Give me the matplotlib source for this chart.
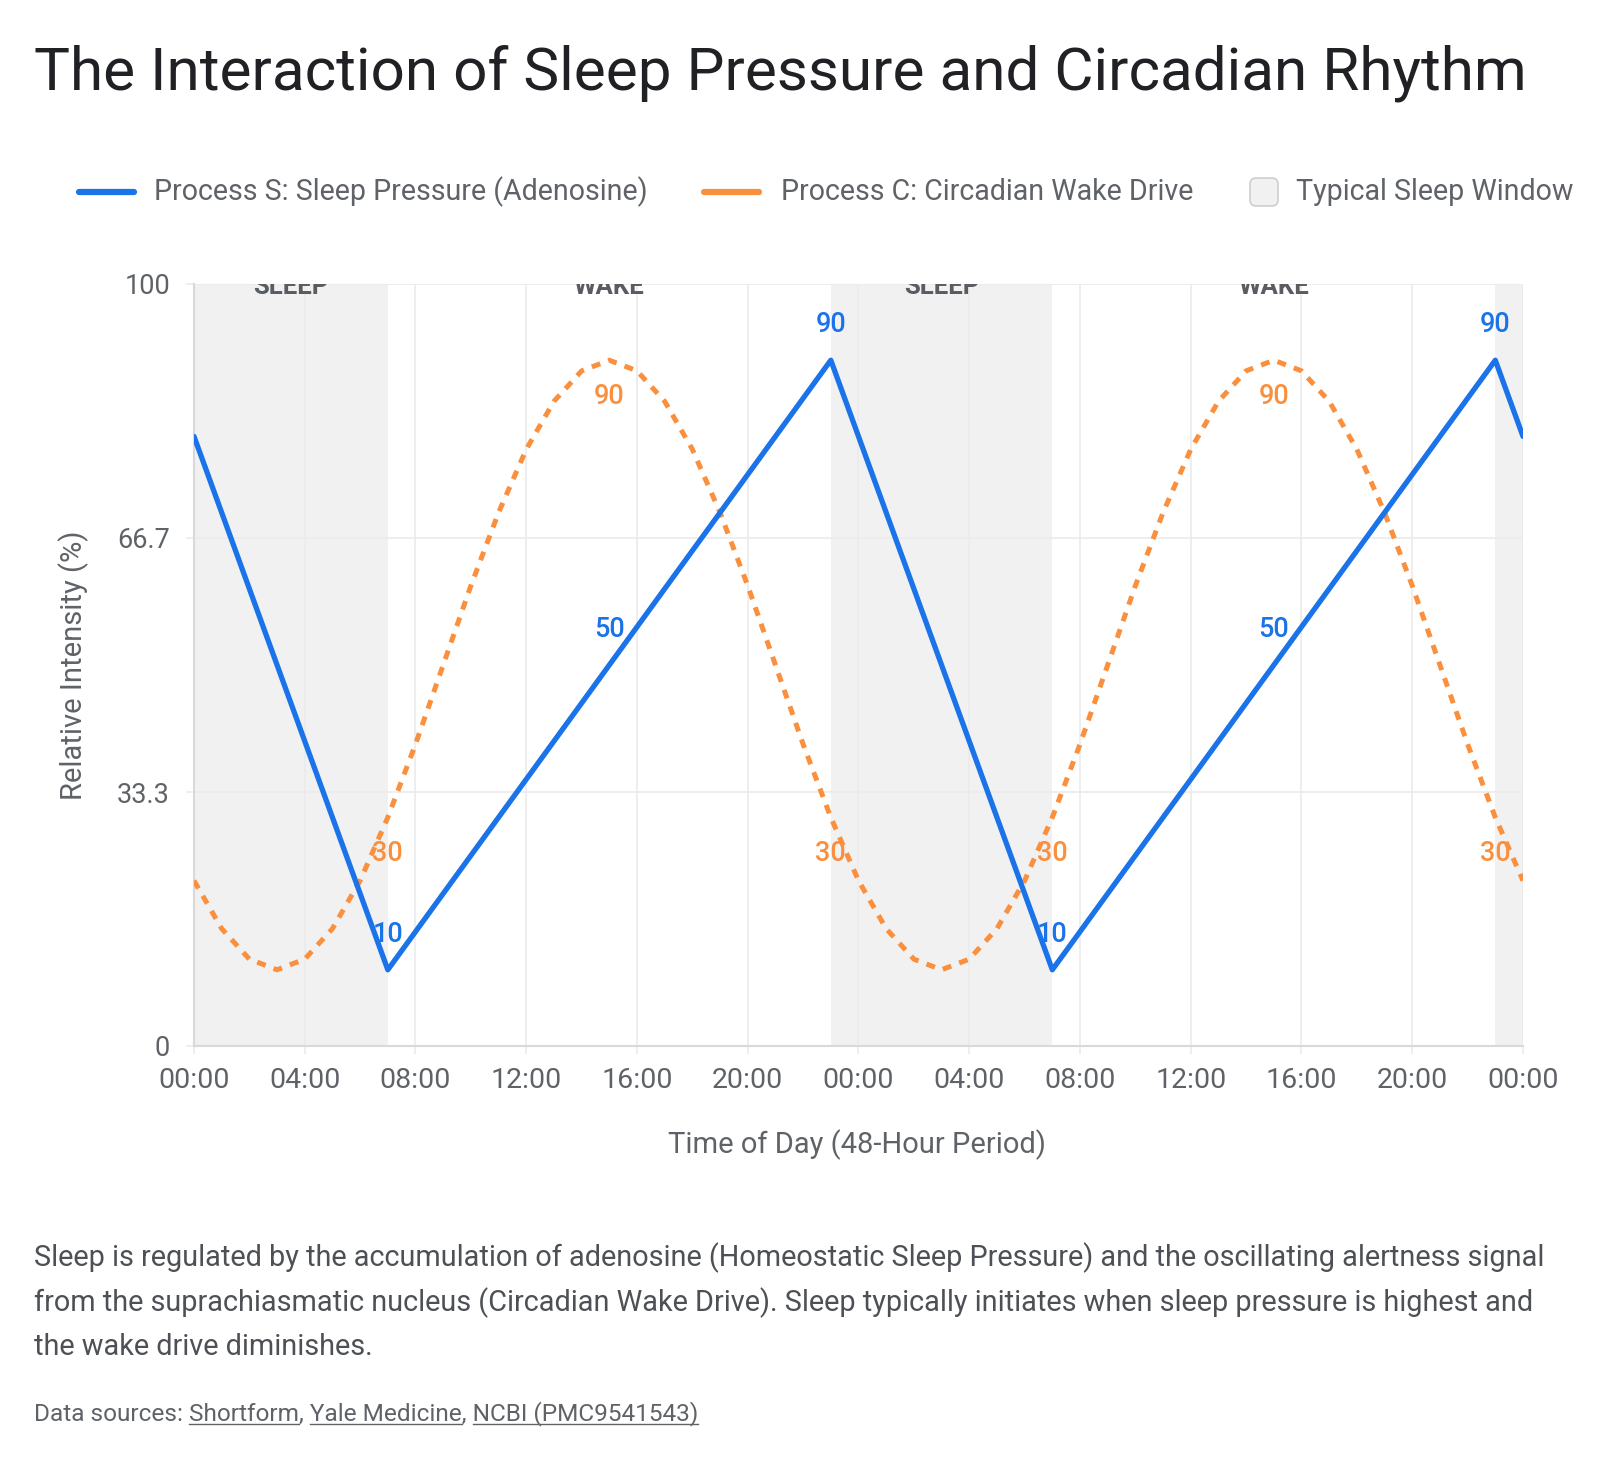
import matplotlib
matplotlib.use("Agg")
import matplotlib.pyplot as plt
from matplotlib.patches import FancyBboxPatch
from matplotlib.lines import Line2D

# ---------------- data ----------------
hours = list(range(49))
process_s = [80, 70, 60, 50, 40, 30, 20, 10,
             15, 20, 25, 30, 35, 40, 45, 50, 55, 60, 65, 70, 75, 80, 85, 90,
             80, 70, 60, 50, 40, 30, 20, 10,
             15, 20, 25, 30, 35, 40, 45, 50, 55, 60, 65, 70, 75, 80, 85, 90,
             80]
process_c = [21.7, 15.4, 11.4, 10, 11.4, 15.4, 21.7, 30, 39.6, 50, 60.4, 70,
             78.3, 84.6, 88.6, 90, 88.6, 84.6, 78.3, 70, 60.4, 50, 39.6, 30,
             21.7, 15.4, 11.4, 10, 11.4, 15.4, 21.7, 30, 39.6, 50, 60.4, 70,
             78.3, 84.6, 88.6, 90, 88.6, 84.6, 78.3, 70, 60.4, 50, 39.6, 30,
             21.7]
label_idx = [7, 15, 23, 31, 39, 47]
tick_pos = [0, 4, 8, 12, 16, 20, 24, 28, 32, 36, 40, 44, 48]
tick_labels = ["00:00", "04:00", "08:00", "12:00", "16:00", "20:00", "00:00",
               "04:00", "08:00", "12:00", "16:00", "20:00", "00:00"]
y_ticks = [0, 33.3, 66.7, 100]
y_tick_labels = ["0", "33.3", "66.7", "100"]
sleep_start = [0, 23, 47]
sleep_end = [7, 31, 48]
phase_names = ["SLEEP", "WAKE", "SLEEP", "WAKE"]
phase_centers = [3.5, 15, 27, 39]

title = "The Interaction of Sleep Pressure and Circadian Rhythm"
legend_labels = ["Process S: Sleep Pressure (Adenosine)",
                 "Process C: Circadian Wake Drive",
                 "Typical Sleep Window"]
desc_lines = [
    "Sleep is regulated by the accumulation of adenosine (Homeostatic Sleep Pressure) and the oscillating alertness signal",
    "from the suprachiasmatic nucleus (Circadian Wake Drive). Sleep typically initiates when sleep pressure is highest and",
    "the wake drive diminishes.",
]
sources_prefix = "Data sources: "
sources_links = ["Shortform", "Yale Medicine", "NCBI (PMC9541543)"]

# ---------------- style ----------------
BLUE = "#1a73e8"
ORANGE = "#fa903e"
SHADE = "#f1f1f1"
GRID = "#ebebeb"
SPINE = "#d9d9d9"
TXT = "#5f6368"
FONT = ["Roboto", "DejaVu Sans"]
plt.rcParams["font.family"] = FONT

W, H = 1600, 1460
fig = plt.figure(figsize=(W / 100, H / 100), dpi=100)
fig.patch.set_facecolor("white")


def fx(px):
    return px / W


def fy(py):
    return 1 - py / H


L, R, T, B = 194, 1523, 284, 1046
ax = fig.add_axes([fx(L), fy(B), (R - L) / W, (B - T) / H])
ax.set_xlim(0, 48)
ax.set_ylim(0, 100)

for s, e in zip(sleep_start, sleep_end):
    ax.axvspan(s, e, color=SHADE, zorder=0, lw=0)

ax.set_axisbelow(True)
ax.grid(True, color=GRID, lw=1.2)
ax.set_xticks(tick_pos)
ax.set_xticklabels(tick_labels)
ax.set_yticks(y_ticks)
ax.set_yticklabels(y_tick_labels)
ax.tick_params(axis="both", length=5.8, width=1.2, color=GRID,
               labelcolor=TXT)
ax.tick_params(axis="x", pad=9, labelsize=20.5)
ax.tick_params(axis="y", pad=11.5, labelsize=19.5)
for side in ["top", "right"]:
    ax.spines[side].set_visible(False)
for side in ["left", "bottom"]:
    ax.spines[side].set_color(SPINE)
    ax.spines[side].set_linewidth(1.5)

ax.plot(hours, process_c, color=ORANGE, lw=3.6, linestyle=(0, (1.8, 1.7)),
        dash_capstyle="butt", dash_joinstyle="round", zorder=3)
ax.plot(hours, process_s, color=BLUE, lw=3.8, solid_joinstyle="round",
        solid_capstyle="round", zorder=4)

for i in label_idx:
    ax.annotate(f"{process_s[i]:g}", (hours[i], process_s[i]),
                xytext=(0, 25.5), textcoords="offset points", ha="center",
                va="center", color=BLUE, fontsize=19.5, fontweight=500,
                zorder=6)
    ax.annotate(f"{round(process_c[i]):d}", (hours[i], process_c[i]),
                xytext=(0, -26), textcoords="offset points", ha="center",
                va="center", color=ORANGE, fontsize=19.5, fontweight=500,
                zorder=6)

for name, c in zip(phase_names, phase_centers):
    ax.text(c, 98.7, name, ha="center", va="baseline", fontsize=18.5,
            fontweight="bold", color="#595d61", clip_on=True,
            clip_box=ax.bbox, zorder=5)

# ---------------- titles / labels ----------------
fig.text(fx(34), fy(90), title, fontsize=43.4, color="#202124", va="baseline",
         ha="left")
fig.text(fx(74), fy(665), "Relative Intensity (%)", rotation=90, fontsize=21,
         color=TXT, ha="center", va="center")
fig.text(fx(857), fy(1145), "Time of Day (48-Hour Period)", fontsize=21,
         color=TXT, ha="center", va="center")

# ---------------- legend ----------------
LY = 192
LEG_SIZE = 20.6
fig.add_artist(Line2D([fx(79), fx(134)], [fy(LY), fy(LY)], color=BLUE, lw=4.5,
                      solid_capstyle="round", transform=fig.transFigure))
fig.text(fx(154), fy(LY), legend_labels[0], fontsize=LEG_SIZE, color=TXT,
         va="center", ha="left")
fig.add_artist(Line2D([fx(704), fx(759)], [fy(LY), fy(LY)], color=ORANGE,
                      lw=4.5, solid_capstyle="round",
                      transform=fig.transFigure))
fig.text(fx(781), fy(LY), legend_labels[1], fontsize=LEG_SIZE, color=TXT,
         va="center", ha="left")
box = FancyBboxPatch((fx(1250), fy(LY + 14)), fx(28), 28 / H,
                     boxstyle="round,pad=0,rounding_size=0.004",
                     facecolor=SHADE, edgecolor="#cfcfcf", lw=1.2,
                     transform=fig.transFigure)
fig.add_artist(box)
fig.text(fx(1296), fy(LY), legend_labels[2], fontsize=LEG_SIZE, color=TXT,
         va="center", ha="left")

# ---------------- description ----------------
for k, line in enumerate(desc_lines):
    fig.text(fx(34), fy(1258 + 44.5 * k), line, fontsize=20.8,
             color="#4d5156", va="center", ha="left")

# ---------------- sources with underlined links ----------------
SRC_SIZE = 17.6
SRC_BASE = 1420
full = sources_prefix + ", ".join(sources_links)
fig.text(fx(34), fy(SRC_BASE), full, fontsize=SRC_SIZE, color=TXT,
         va="baseline", ha="left")
renderer = fig.canvas.get_renderer()


def width_px(s):
    t = fig.text(0, 0, s, fontsize=SRC_SIZE)
    w = t.get_window_extent(renderer).width
    t.remove()
    return w


pos = len(sources_prefix)
for k, link in enumerate(sources_links):
    end_idx = pos + len(link)
    x_end = 34 + width_px(full[:end_idx])
    x_start = x_end - width_px(link)
    fig.add_artist(Line2D([fx(x_start), fx(x_end)],
                          [fy(SRC_BASE + 4), fy(SRC_BASE + 4)], color=TXT,
                          lw=1.0, transform=fig.transFigure))
    pos = end_idx + 2

fig.savefig("out.png", dpi=100, facecolor="white")
